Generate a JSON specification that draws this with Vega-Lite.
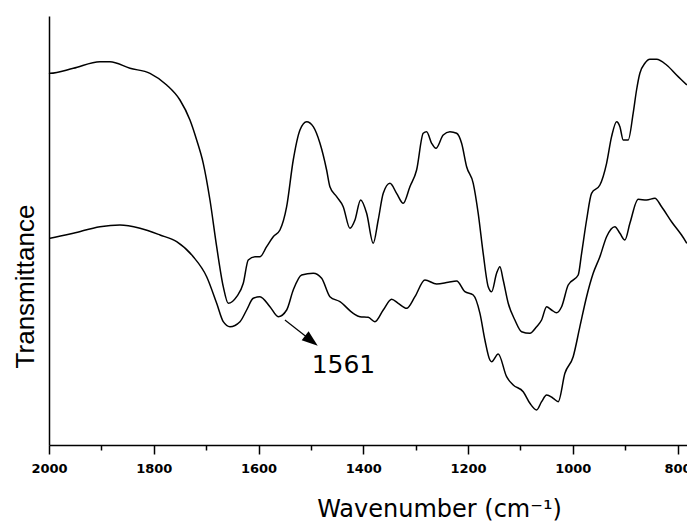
{
  "$schema": "https://vega.github.io/schema/vega-lite/v6.json",
  "width": 638,
  "height": 429,
  "autosize": {"type": "none"},
  "padding": {"left": 49, "top": 16, "right": 0, "bottom": 77},
  "background": "white",
  "config": {"view": {"stroke": null}},
  "datasets": {
    "spectra": [
      {"sample": "upper", "wavenumber": 2000, "t": 372},
      {"sample": "upper", "wavenumber": 1998, "t": 371.7},
      {"sample": "upper", "wavenumber": 1953.6, "t": 376.7},
      {"sample": "upper", "wavenumber": 1902.7, "t": 383.3},
      {"sample": "upper", "wavenumber": 1883.6, "t": 383.3},
      {"sample": "upper", "wavenumber": 1845.4, "t": 376.7},
      {"sample": "upper", "wavenumber": 1807.2, "t": 371.7},
      {"sample": "upper", "wavenumber": 1775.3, "t": 360},
      {"sample": "upper", "wavenumber": 1750.0, "t": 345},
      {"sample": "upper", "wavenumber": 1730.9, "t": 325},
      {"sample": "upper", "wavenumber": 1718.1, "t": 305},
      {"sample": "upper", "wavenumber": 1705.5, "t": 281.7},
      {"sample": "upper", "wavenumber": 1692.7, "t": 245},
      {"sample": "upper", "wavenumber": 1679.9, "t": 198.3},
      {"sample": "upper", "wavenumber": 1667.3, "t": 158.3},
      {"sample": "upper", "wavenumber": 1657.8, "t": 141.7},
      {"sample": "upper", "wavenumber": 1641.7, "t": 148.3},
      {"sample": "upper", "wavenumber": 1629.1, "t": 161.7},
      {"sample": "upper", "wavenumber": 1619.6, "t": 185},
      {"sample": "upper", "wavenumber": 1606.8, "t": 188.3},
      {"sample": "upper", "wavenumber": 1597.3, "t": 188.3},
      {"sample": "upper", "wavenumber": 1584.5, "t": 198.3},
      {"sample": "upper", "wavenumber": 1571.9, "t": 208.3},
      {"sample": "upper", "wavenumber": 1559.1, "t": 215},
      {"sample": "upper", "wavenumber": 1546.3, "t": 238.3},
      {"sample": "upper", "wavenumber": 1533.7, "t": 285},
      {"sample": "upper", "wavenumber": 1520.9, "t": 315},
      {"sample": "upper", "wavenumber": 1508.1, "t": 323.3},
      {"sample": "upper", "wavenumber": 1495.5, "t": 318.3},
      {"sample": "upper", "wavenumber": 1482.7, "t": 301.7},
      {"sample": "upper", "wavenumber": 1470.0, "t": 275},
      {"sample": "upper", "wavenumber": 1463.7, "t": 258.3},
      {"sample": "upper", "wavenumber": 1450.9, "t": 248.3},
      {"sample": "upper", "wavenumber": 1438.3, "t": 238.3},
      {"sample": "upper", "wavenumber": 1425.5, "t": 216.7},
      {"sample": "upper", "wavenumber": 1415.9, "t": 225},
      {"sample": "upper", "wavenumber": 1405.1, "t": 245},
      {"sample": "upper", "wavenumber": 1393.6, "t": 231.7},
      {"sample": "upper", "wavenumber": 1381.0, "t": 201.7},
      {"sample": "upper", "wavenumber": 1371.5, "t": 225},
      {"sample": "upper", "wavenumber": 1361.9, "t": 251.7},
      {"sample": "upper", "wavenumber": 1349.1, "t": 261.7},
      {"sample": "upper", "wavenumber": 1336.4, "t": 251.7},
      {"sample": "upper", "wavenumber": 1323.8, "t": 241.7},
      {"sample": "upper", "wavenumber": 1311.0, "t": 258.3},
      {"sample": "upper", "wavenumber": 1298.2, "t": 275},
      {"sample": "upper", "wavenumber": 1285.6, "t": 311.7},
      {"sample": "upper", "wavenumber": 1279.1, "t": 313.3},
      {"sample": "upper", "wavenumber": 1269.5, "t": 301.7},
      {"sample": "upper", "wavenumber": 1261.3, "t": 296.7},
      {"sample": "upper", "wavenumber": 1247.4, "t": 310},
      {"sample": "upper", "wavenumber": 1234.6, "t": 313.3},
      {"sample": "upper", "wavenumber": 1221.8, "t": 311.7},
      {"sample": "upper", "wavenumber": 1212.3, "t": 301.7},
      {"sample": "upper", "wavenumber": 1202.7, "t": 278.3},
      {"sample": "upper", "wavenumber": 1190.1, "t": 261.7},
      {"sample": "upper", "wavenumber": 1180.6, "t": 231.7},
      {"sample": "upper", "wavenumber": 1171.1, "t": 191.7},
      {"sample": "upper", "wavenumber": 1161.5, "t": 158.3},
      {"sample": "upper", "wavenumber": 1155.0, "t": 153.3},
      {"sample": "upper", "wavenumber": 1145.5, "t": 171.7},
      {"sample": "upper", "wavenumber": 1139.2, "t": 178.3},
      {"sample": "upper", "wavenumber": 1132.9, "t": 165},
      {"sample": "upper", "wavenumber": 1123.3, "t": 141.7},
      {"sample": "upper", "wavenumber": 1110.6, "t": 125},
      {"sample": "upper", "wavenumber": 1097.8, "t": 113.3},
      {"sample": "upper", "wavenumber": 1081.9, "t": 111.7},
      {"sample": "upper", "wavenumber": 1069.1, "t": 118.3},
      {"sample": "upper", "wavenumber": 1059.6, "t": 125},
      {"sample": "upper", "wavenumber": 1050.0, "t": 138.3},
      {"sample": "upper", "wavenumber": 1040.5, "t": 135},
      {"sample": "upper", "wavenumber": 1031.0, "t": 132.3},
      {"sample": "upper", "wavenumber": 1021.4, "t": 138.3},
      {"sample": "upper", "wavenumber": 1008.8, "t": 160},
      {"sample": "upper", "wavenumber": 989.7, "t": 170},
      {"sample": "upper", "wavenumber": 983.2, "t": 191.7},
      {"sample": "upper", "wavenumber": 973.7, "t": 225},
      {"sample": "upper", "wavenumber": 964.2, "t": 251.7},
      {"sample": "upper", "wavenumber": 948.3, "t": 260},
      {"sample": "upper", "wavenumber": 935.5, "t": 281.7},
      {"sample": "upper", "wavenumber": 926.0, "t": 308.3},
      {"sample": "upper", "wavenumber": 916.4, "t": 323.3},
      {"sample": "upper", "wavenumber": 910.1, "t": 318.3},
      {"sample": "upper", "wavenumber": 903.8, "t": 305},
      {"sample": "upper", "wavenumber": 894.3, "t": 305},
      {"sample": "upper", "wavenumber": 884.8, "t": 331.7},
      {"sample": "upper", "wavenumber": 878.3, "t": 355},
      {"sample": "upper", "wavenumber": 872.0, "t": 371.7},
      {"sample": "upper", "wavenumber": 862.4, "t": 381.7},
      {"sample": "upper", "wavenumber": 852.9, "t": 385.7},
      {"sample": "upper", "wavenumber": 840.1, "t": 385.7},
      {"sample": "upper", "wavenumber": 821.0, "t": 380},
      {"sample": "upper", "wavenumber": 802.0, "t": 370},
      {"sample": "upper", "wavenumber": 782.3, "t": 360},
      {"sample": "lower", "wavenumber": 2000, "t": 206.5},
      {"sample": "lower", "wavenumber": 1998, "t": 206.7},
      {"sample": "lower", "wavenumber": 1953.6, "t": 211.7},
      {"sample": "lower", "wavenumber": 1902.7, "t": 218.3},
      {"sample": "lower", "wavenumber": 1864.5, "t": 220},
      {"sample": "lower", "wavenumber": 1826.3, "t": 216.7},
      {"sample": "lower", "wavenumber": 1788.1, "t": 210},
      {"sample": "lower", "wavenumber": 1756.3, "t": 203.3},
      {"sample": "lower", "wavenumber": 1724.6, "t": 188.3},
      {"sample": "lower", "wavenumber": 1699.0, "t": 168.3},
      {"sample": "lower", "wavenumber": 1679.9, "t": 141.7},
      {"sample": "lower", "wavenumber": 1667.3, "t": 123.3},
      {"sample": "lower", "wavenumber": 1654.5, "t": 118.3},
      {"sample": "lower", "wavenumber": 1635.4, "t": 123.3},
      {"sample": "lower", "wavenumber": 1622.7, "t": 135},
      {"sample": "lower", "wavenumber": 1610.1, "t": 146.7},
      {"sample": "lower", "wavenumber": 1597.3, "t": 148.3},
      {"sample": "lower", "wavenumber": 1578.2, "t": 138.3},
      {"sample": "lower", "wavenumber": 1562.3, "t": 128.3},
      {"sample": "lower", "wavenumber": 1546.3, "t": 135},
      {"sample": "lower", "wavenumber": 1533.7, "t": 155},
      {"sample": "lower", "wavenumber": 1517.7, "t": 170},
      {"sample": "lower", "wavenumber": 1495.5, "t": 171.7},
      {"sample": "lower", "wavenumber": 1479.5, "t": 166.7},
      {"sample": "lower", "wavenumber": 1463.7, "t": 148.3},
      {"sample": "lower", "wavenumber": 1444.6, "t": 143.3},
      {"sample": "lower", "wavenumber": 1419.2, "t": 131.7},
      {"sample": "lower", "wavenumber": 1406.4, "t": 128.3},
      {"sample": "lower", "wavenumber": 1390.6, "t": 127.7},
      {"sample": "lower", "wavenumber": 1377.8, "t": 123.3},
      {"sample": "lower", "wavenumber": 1361.9, "t": 135},
      {"sample": "lower", "wavenumber": 1345.9, "t": 145.7},
      {"sample": "lower", "wavenumber": 1333.3, "t": 141.7},
      {"sample": "lower", "wavenumber": 1317.3, "t": 136.7},
      {"sample": "lower", "wavenumber": 1301.4, "t": 148.3},
      {"sample": "lower", "wavenumber": 1282.3, "t": 165},
      {"sample": "lower", "wavenumber": 1260.0, "t": 161},
      {"sample": "lower", "wavenumber": 1237.9, "t": 162.7},
      {"sample": "lower", "wavenumber": 1221.8, "t": 164},
      {"sample": "lower", "wavenumber": 1206.0, "t": 153.3},
      {"sample": "lower", "wavenumber": 1190.1, "t": 150},
      {"sample": "lower", "wavenumber": 1177.3, "t": 131.7},
      {"sample": "lower", "wavenumber": 1167.8, "t": 105},
      {"sample": "lower", "wavenumber": 1158.3, "t": 85},
      {"sample": "lower", "wavenumber": 1155.0, "t": 83.3},
      {"sample": "lower", "wavenumber": 1142.4, "t": 91},
      {"sample": "lower", "wavenumber": 1126.4, "t": 68.3},
      {"sample": "lower", "wavenumber": 1113.8, "t": 60},
      {"sample": "lower", "wavenumber": 1094.7, "t": 53.3},
      {"sample": "lower", "wavenumber": 1081.9, "t": 41.7},
      {"sample": "lower", "wavenumber": 1069.1, "t": 35},
      {"sample": "lower", "wavenumber": 1059.6, "t": 43.3},
      {"sample": "lower", "wavenumber": 1050.0, "t": 50},
      {"sample": "lower", "wavenumber": 1037.4, "t": 46.7},
      {"sample": "lower", "wavenumber": 1027.9, "t": 43.3},
      {"sample": "lower", "wavenumber": 1015.1, "t": 71.7},
      {"sample": "lower", "wavenumber": 999.3, "t": 88.3},
      {"sample": "lower", "wavenumber": 986.5, "t": 118.3},
      {"sample": "lower", "wavenumber": 973.7, "t": 148.3},
      {"sample": "lower", "wavenumber": 961.1, "t": 171.7},
      {"sample": "lower", "wavenumber": 948.3, "t": 188.3},
      {"sample": "lower", "wavenumber": 935.5, "t": 208.3},
      {"sample": "lower", "wavenumber": 919.7, "t": 218.3},
      {"sample": "lower", "wavenumber": 910.1, "t": 211.7},
      {"sample": "lower", "wavenumber": 900.6, "t": 205},
      {"sample": "lower", "wavenumber": 891.0, "t": 221.7},
      {"sample": "lower", "wavenumber": 875.2, "t": 245.7},
      {"sample": "lower", "wavenumber": 859.2, "t": 245},
      {"sample": "lower", "wavenumber": 843.3, "t": 246.7},
      {"sample": "lower", "wavenumber": 830.5, "t": 238.3},
      {"sample": "lower", "wavenumber": 811.5, "t": 223.3},
      {"sample": "lower", "wavenumber": 792.4, "t": 210},
      {"sample": "lower", "wavenumber": 782.3, "t": 201.7}
    ],
    "arrow": [
      {"x0": 1549.6, "y0": 125, "x1": 1499.0, "y1": 104.3}
    ],
    "label": [
      {"wavenumber": 1498.6, "t": 71.7, "text": "1561"}
    ]
  },
  "layer": [
    {
      "data": {"name": "spectra"},
      "mark": {"type": "line", "color": "black", "strokeWidth": 1.5, "interpolate": "monotone"},
      "encoding": {
        "x": {
          "field": "wavenumber",
          "type": "quantitative",
          "scale": {"domain": [782, 2000], "reverse": true, "nice": false, "zero": false},
          "axis": {
            "title": "Wavenumber (cm⁻¹)",
            "values": [2000, 1900, 1800, 1700, 1600, 1500, 1400, 1300, 1200, 1100, 1000, 900, 800],
            "labelExpr": "datum.value % 200 === 0 ? datum.label : ''",
            "tickSize": {"condition": {"test": "datum.value % 200 === 0", "value": 9}, "value": 5},
            "grid": false,
            "domainColor": "black",
            "domainWidth": 1.5,
            "tickColor": "black",
            "tickWidth": 1.5,
            "labelFont": "DejaVu Sans",
            "labelFontSize": 13,
            "labelFontWeight": "bold",
            "labelColor": "black",
            "labelPadding": 8,
            "labelFlush": false,
            "labelOverlap": false,
            "labelBound": false,
            "format": "d",
            "titleFont": "DejaVu Sans",
            "titleFontSize": 24,
            "titleFontWeight": "normal",
            "titleColor": "black",
            "titleAlign": "center",
            "titleBaseline": "alphabetic",
            "titleX": 390,
            "titleY": 71
          }
        },
        "y": {
          "field": "t",
          "type": "quantitative",
          "scale": {"domain": [0, 429], "nice": false, "zero": false},
          "axis": {
            "title": "Transmittance",
            "labels": false,
            "ticks": false,
            "grid": false,
            "domainColor": "black",
            "domainWidth": 1.5,
            "titleFont": "Liberation Sans",
            "titleFontSize": 26,
            "titleFontWeight": "normal",
            "titleColor": "black",
            "titleAngle": -90,
            "titleAlign": "center",
            "titleBaseline": "middle",
            "titleX": -24,
            "titleY": 270
          }
        },
        "detail": {"field": "sample", "type": "nominal"}
      }
    },
    {
      "data": {"name": "arrow"},
      "mark": {"type": "rule", "color": "black", "strokeWidth": 1.2},
      "encoding": {
        "x": {"field": "x0", "type": "quantitative"},
        "y": {"field": "y0", "type": "quantitative"},
        "x2": {"field": "x1"},
        "y2": {"field": "y1"}
      }
    },
    {
      "data": {"name": "arrow"},
      "mark": {"type": "point", "shape": "M-1,-0.7L1,0L-1,0.7Z", "filled": true, "color": "black", "opacity": 1, "size": 256, "angle": 38},
      "encoding": {
        "x": {"field": "x1", "type": "quantitative"},
        "y": {"field": "y1", "type": "quantitative"}
      }
    },
    {
      "data": {"name": "label"},
      "mark": {"type": "text", "align": "left", "baseline": "alphabetic", "font": "DejaVu Sans", "fontSize": 25, "color": "black"},
      "encoding": {
        "x": {"field": "wavenumber", "type": "quantitative"},
        "y": {"field": "t", "type": "quantitative"},
        "text": {"field": "text"}
      }
    }
  ]
}
